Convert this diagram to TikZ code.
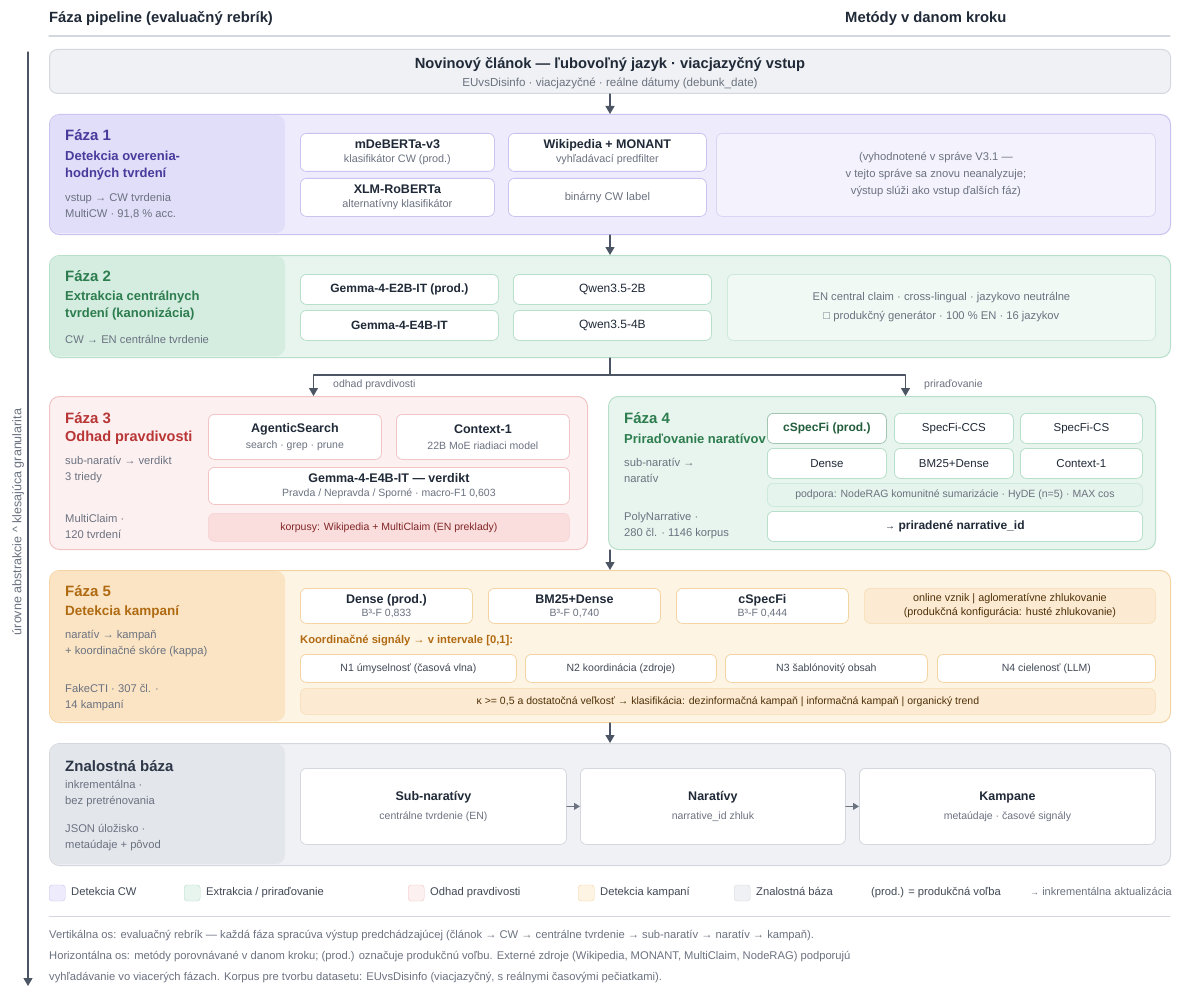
\documentclass[tikz,border=0pt]{standalone}
\usepackage{fontspec}
\setmainfont{Liberation Sans}
\usetikzlibrary{arrows.meta,positioning,calc}

% palette
\definecolor{ink}{HTML}{1F2937}
\definecolor{muted}{HTML}{6B7280}
\definecolor{arrowc}{HTML}{4B5563}
\definecolor{lavbg}{HTML}{EEECFC}
\definecolor{lavpanel}{HTML}{E1DEF9}
\definecolor{lavline}{HTML}{C9C3F0}
\definecolor{lavnote}{HTML}{F4F3FD}
\definecolor{lavtext}{HTML}{4A3A9C}
\definecolor{grnbg}{HTML}{E7F5EE}
\definecolor{grnpanel}{HTML}{D4EDE0}
\definecolor{grnline}{HTML}{B7DFCA}
\definecolor{grnnote}{HTML}{F1F9F5}
\definecolor{grntext}{HTML}{2E7D4F}
\definecolor{redbg}{HTML}{FDF0F0}
\definecolor{redpanel}{HTML}{FBE0E0}
\definecolor{redline}{HTML}{F2C4C4}
\definecolor{rednote}{HTML}{FADDDD}
\definecolor{redtext}{HTML}{B83636}
\definecolor{orgbg}{HTML}{FEF4E4}
\definecolor{orgpanel}{HTML}{FBE4C4}
\definecolor{orgline}{HTML}{F3D4A2}
\definecolor{orgnote}{HTML}{FCEBD2}
\definecolor{orgtext}{HTML}{B06A12}
\definecolor{slabg}{HTML}{EFF1F4}
\definecolor{slapanel}{HTML}{E3E6EB}
\definecolor{slaline}{HTML}{D4D8DE}
\definecolor{slanote}{HTML}{F6F7F9}
\definecolor{slatext}{HTML}{2D3748}

\newcommand\fs[2]{\fontsize{#1}{#2}\selectfont}
\newcommand\boxtitle[1]{{\fs{12.5}{14}\bfseries #1}}
\newcommand\boxsub[1]{{\color{muted}#1}}

\begin{document}
\begin{tikzpicture}[x=1pt, y=-1pt,
    line cap=round, line join=round,
    phase/.style={draw=#1line, fill=#1bg, rounded corners=10pt, line width=1pt,
                  anchor=north west, inner sep=0pt},
    panel/.style={fill=#1panel, rounded corners=9pt},
    meth/.style={draw=#1line, fill=white, rounded corners=6pt, line width=0.8pt,
                 anchor=north west, inner sep=0pt, align=center, text=ink,
                 font=\fs{10.8}{14}},
    note/.style={meth=#1, draw=#1line!70, fill=#1note, text=muted, font=\fs{11.2}{17}},
    lbl/.style={anchor=west, inner sep=0pt, align=left},
    head/.style={lbl, font=\fs{15}{18}\bfseries, text=#1text},
    subhead/.style={lbl, font=\fs{13}{17}\bfseries, text=#1text},
    small/.style={lbl, font=\fs{11.2}{16}, text=muted},
    legtext/.style={lbl, font=\fs{11.2}{13}, text height=8pt, text depth=2.5pt},
    flow/.style={draw=arrowc, line width=1.3pt, -{Triangle[width=9pt,length=8pt]}},
    link/.style={draw=muted, line width=1pt, -{Triangle[width=7pt,length=6pt]}}]
  \useasboundingbox[fill=white] (0,0) rectangle (1180,987);

  % column headers
  \node[lbl, font=\fs{14.8}{17}\bfseries, text=ink] (hleft) at (49,19) {Fáza pipeline (evaluačný rebrík)};
  \node[lbl, font=\fs{14.8}{17}\bfseries, text=ink] (hright) at (845,19) {Metódy v danom kroku};
  \draw[slaline, line width=1.2pt] (49,36) -- (1170,36);

  % vertical axis
  \coordinate (axtop) at (28,52);
  \coordinate (axbot) at (28,986);
  \draw[flow] (axtop) -- (axbot);
  \node[rotate=90, font=\fs{12.5}{14}, text=muted] (axlabel) at (18,522) {úrovne abstrakcie \textasciicircum{} klesajúca granularita};

  % input
  \node[phase=sla, minimum width=1121, minimum height=44, rounded corners=8pt] (input) at (49,49) {};
  \node[font=\fs{14.7}{17}\bfseries, text=ink] (inputtitle) at (610,65) {Novinový článok — ľubovoľný jazyk · viacjazyčný vstup};
  \node[font=\fs{11.6}{13}, text=muted] (inputsub) at (610,83) {EUvsDisinfo · viacjazyčné · reálne dátumy (debunk\_date)};

  % phase 1
  \node[phase=lav, minimum width=1121, minimum height=120] (ph1) at (49,114) {};
  \fill[panel=lav] (50,115) rectangle (285,233);
  \node[head=lav] (ph1head) at (65,135) {Fáza 1};
  \node[subhead=lav] (ph1name) at (65,165.5) {Detekcia overenia-\\hodných tvrdení};
  \node[small] (ph1info) at (65,206) {vstup → CW tvrdenia\\MultiCW · 91,8 \% acc.};
  \node[meth=lav, minimum width=194, minimum height=38] (mdeberta) at (300,133) {\boxtitle{mDeBERTa-v3}\\\boxsub{klasifikátor CW (prod.)}};
  \node[meth=lav, minimum width=198, minimum height=38] (wikimonant) at (508,133) {\boxtitle{Wikipedia + MONANT}\\\boxsub{vyhľadávací predfilter}};
  \node[meth=lav, minimum width=194, minimum height=38] (xlmr) at (300,178) {\boxtitle{XLM-RoBERTa}\\\boxsub{alternatívny klasifikátor}};
  \node[meth=lav, minimum width=198, minimum height=38, text=muted, font=\fs{11.2}{14}] (cwlabel) at (508,178) {binárny CW label};
  \node[note=lav, minimum width=439, minimum height=83] (ph1note) at (716,133) {(vyhodnotené v správe V3.1 —\\v tejto správe sa znovu neanalyzuje;\\výstup slúži ako vstup ďalších fáz)};

  % phase 2
  \node[phase=grn, minimum width=1121, minimum height=102] (ph2) at (49,255) {};
  \fill[panel=grn] (50,256) rectangle (285,356);
  \node[head=grn] (ph2head) at (65,276) {Fáza 2};
  \node[subhead=grn] (ph2name) at (65,305.5) {Extrakcia centrálnych\\tvrdení (kanonizácia)};
  \node[small] (ph2info) at (65,339) {CW → EN centrálne tvrdenie};
  \node[meth=grn, minimum width=198, minimum height=30, font=\fs{12}{14}\bfseries] (gemmatwo) at (300,274) {Gemma-4-E2B-IT (prod.)};
  \node[meth=grn, minimum width=198, minimum height=30, font=\fs{12}{14}] (qwentwo) at (513,274) {Qwen3.5-2B};
  \node[meth=grn, minimum width=198, minimum height=30, font=\fs{12}{14}\bfseries] (gemmafour) at (300,310) {Gemma-4-E4B-IT};
  \node[meth=grn, minimum width=198, minimum height=30, font=\fs{12}{14}] (qwenfour) at (513,310) {Qwen3.5-4B};
  \node[note=grn, minimum width=428, minimum height=66, font=\fs{11.2}{19}] (ph2note) at (727,274) {EN central claim · cross-lingual · jazykovo neutrálne\\□ produkčný generátor · 100 \% EN · 16 jazykov};

  % phase 3
  \node[phase=red, minimum width=538, minimum height=153] (ph3) at (49,396) {};
  \node[head=red] (ph3head) at (65,418) {Fáza 3};
  \node[lbl, font=\fs{14.5}{17}\bfseries, text=redtext] (ph3name) at (65,438) {Odhad pravdivosti};
  \node[small] (ph3info) at (65,470) {sub-naratív → verdikt\\3 triedy};
  \node[small] (ph3data) at (65,526) {MultiClaim ·\\120 tvrdení};
  \node[meth=red, minimum width=173, minimum height=45, font=\fs{10.5}{16}] (agentic) at (208,414) {\boxtitle{AgenticSearch}\\\boxsub{search · grep · prune}};
  \node[meth=red, minimum width=173, minimum height=45, font=\fs{10.5}{16}] (contextone) at (396,414) {\boxtitle{Context-1}\\\boxsub{22B MoE riadiaci model}};
  \node[meth=red, minimum width=361, minimum height=37, font=\fs{10.5}{14}] (verdict) at (208,467) {\boxtitle{Gemma-4-E4B-IT — verdikt}\\\boxsub{Pravda / Nepravda / Sporné · macro-F1 0,603}};
  \node[note=red, minimum width=361, minimum height=28, text=redtext!70!black, font=\fs{10.5}{12}] (corpora) at (208,513) {korpusy: Wikipedia + MultiClaim (EN preklady)};

  % phase 4
  \node[phase=grn, minimum width=547, minimum height=153] (ph4) at (608,396) {};
  \node[head=grn] (ph4head) at (624,418) {Fáza 4};
  \node[lbl, font=\fs{13}{17}\bfseries, text=grntext] (ph4name) at (624,439) {Priraďovanie naratívov};
  \node[small] (ph4info) at (624,470) {sub-naratív →\\naratív};
  \node[small] (ph4data) at (624,526) {PolyNarrative ·\\280 čl. · 1146 korpus};
  \node[meth=grn, minimum width=119, minimum height=30, draw=grntext!45, font=\fs{12}{14}\bfseries, text=grntext!75!black] (cspecprod) at (767,413) {cSpecFi (prod.)};
  \foreach \nm/\x/\y/\w/\t in {specccs/894/413/119/SpecFi-CCS, speccs/1020/413/122/SpecFi-CS,
                               dense/767/448/119/Dense, bmdense/894/448/119/BM25+Dense,
                               ctxone/1020/448/122/Context-1}
    \node[meth=grn, minimum width=\w, minimum height=30, font=\fs{11.5}{14}] (\nm) at (\x,\y) {\t};
  \node[note=grn, minimum width=375, minimum height=23, fill=grnpanel!60, font=\fs{10.5}{12}] (support) at (767,483) {podpora: NodeRAG komunitné sumarizácie · HyDE (n=5) · MAX cos};
  \node[meth=grn, minimum width=375, minimum height=30, font=\fs{12}{14}] (assigned) at (767,511) {{\fs{10}{12}→} \textbf{priradené narrative\_id}};

  % fork to phases 3 and 4
  \draw[arrowc, line width=1.3pt] (ph2.south) -- ++(0,17) coordinate (fork);
  \draw[flow] (fork) -| ([xshift=-5pt]ph3.north);
  \draw[flow] (fork) -| ([xshift=23.5pt]ph4.north);
  \node[lbl, font=\fs{10.5}{12}, text=muted] (lbltruth) at (333,385) {odhad pravdivosti};
  \node[lbl, font=\fs{10.5}{12}, text=muted] (lblassign) at (924,385) {priraďovanie};

  % phase 5
  \node[phase=org, minimum width=1121, minimum height=152] (ph5) at (49,570) {};
  \fill[panel=org] (50,571) rectangle (285,721);
  \node[head=org] (ph5head) at (65,591) {Fáza 5};
  \node[lbl, font=\fs{13.5}{17}\bfseries, text=orgtext] (ph5name) at (65,612) {Detekcia kampaní};
  \node[small] (ph5info) at (65,643.5) {naratív → kampaň\\+ koordinačné skóre (kappa)};
  \node[small] (ph5data) at (65,697.5) {FakeCTI · 307 čl. ·\\14 kampaní};
  \node[meth=org, minimum width=172, minimum height=35, font=\fs{10.5}{13}] (denseprod) at (300,588) {\boxtitle{Dense (prod.)}\\\boxsub{B³-F 0,833}};
  \node[meth=org, minimum width=172, minimum height=35, font=\fs{10.5}{13}] (bmdensefive) at (488,588) {\boxtitle{BM25+Dense}\\\boxsub{B³-F 0,740}};
  \node[meth=org, minimum width=172, minimum height=35, font=\fs{10.5}{13}] (cspecfive) at (676,588) {\boxtitle{cSpecFi}\\\boxsub{B³-F 0,444}};
  \node[note=org, minimum width=291, minimum height=35, text=orgtext!45!black, font=\fs{10.8}{14}] (onlinenote) at (864,588) {online vznik | aglomeratívne zhlukovanie\\(produkčná konfigurácia: husté zhlukovanie)};
  \node[lbl, font=\fs{11.2}{14}\bfseries, text=orgtext] (signalshead) at (300,641) {Koordinačné signály → v intervale [0,1]:};
  \foreach \nm/\x/\w/\t in {nintent/300/216/N1 úmyselnosť (časová vlna), ncoord/525/191/N2 koordinácia (zdroje),
                            ntempl/725/202/N3 šablónovitý obsah, ntarget/937/218/N4 cielenosť (LLM)}
    \node[meth=org, minimum width=\w, minimum height=28, text=ink!85, font=\fs{10.5}{12}] (\nm) at (\x,654) {\t};
  \node[note=org, minimum width=855, minimum height=26, text=orgtext!45!black, font=\fs{10.5}{12}] (kappa) at (300,688) {κ >= 0,5 a dostatočná veľkosť → klasifikácia: dezinformačná kampaň | informačná kampaň | organický trend};

  % knowledge base
  \node[phase=sla, minimum width=1121, minimum height=122] (kb) at (49,743) {};
  \fill[panel=sla] (50,744) rectangle (285,864);
  \node[lbl, font=\fs{15}{18}\bfseries, text=slatext] (kbhead) at (65,766) {Znalostná báza};
  \node[small] (kbinfo) at (65,794) {inkrementálna ·\\bez pretrénovania};
  \node[small] (kbstore) at (65,837.5) {JSON úložisko ·\\metaúdaje + pôvod};
  \node[meth=sla, minimum width=266, minimum height=76, font=\fs{10.5}{19}] (subnar) at (300,768) {\boxtitle{Sub-naratívy}\\\boxsub{centrálne tvrdenie (EN)}};
  \node[meth=sla, minimum width=265, minimum height=76, font=\fs{10.5}{19}] (nar) at (580,768) {\boxtitle{Naratívy}\\\boxsub{narrative\_id zhluk}};
  \node[meth=sla, minimum width=296, minimum height=76, font=\fs{10.5}{19}] (camp) at (859,768) {\boxtitle{Kampane}\\\boxsub{metaúdaje · časové signály}};
  \draw[link] (subnar) -- (nar);
  \draw[link] (nar) -- (camp);

  % main flow
  \draw[flow] (input) -- (ph1);
  \draw[flow] (ph1) -- (ph2);
  \draw[flow] (ph4.south west -| ph5.north) -- (ph5.north);
  \draw[flow] (ph5) -- (kb);

  % legend
  \foreach \nm/\x/\c/\t in {legcw/49/lav/{Detekcia CW}, legext/184/grn/{Extrakcia / priraďovanie},
                            legtruth/408/red/{Odhad pravdivosti}, legcamp/578/org/{Detekcia kampaní},
                            legkb/734/sla/{Znalostná báza}}{
    \node[draw=\c line, fill=\c bg, rounded corners=3pt, minimum size=16, inner sep=0pt,
          anchor=west] (\nm) at (\x,893) {};
    \node[legtext, text=ink!85] (\nm text) at (\x+22,893) {\t};
  }
  \node[legtext, text=ink!85] (legprod) at (871,893) {(prod.) = produkčná voľba};
  \node[legtext, font=\fs{11}{13}, text=muted] (legincr) at (1030,893) {{\fs{9}{12}→} inkrementálna aktualizácia};
  \draw[slaline, line width=1pt] (49,916) -- (1170,916);

  % footnote
  \node[lbl, font=\fs{11.2}{21}, text=muted] (footnote) at (49,957) {Vertikálna os: evaluačný rebrík — každá fáza spracúva výstup predchádzajúcej (článok → CW → centrálne tvrdenie → sub-naratív → naratív → kampaň).\\
    Horizontálna os: metódy porovnávané v danom kroku; (prod.) označuje produkčnú voľbu. Externé zdroje (Wikipedia, MONANT, MultiClaim, NodeRAG) podporujú\\
    vyhľadávanie vo viacerých fázach. Korpus pre tvorbu datasetu: EUvsDisinfo (viacjazyčný, s reálnymi časovými pečiatkami).};
\end{tikzpicture}
\end{document}
